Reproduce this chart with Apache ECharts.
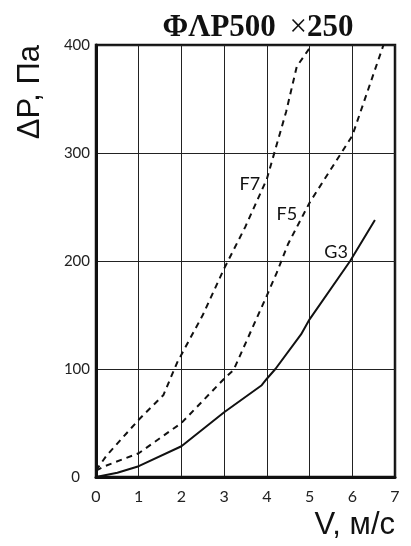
<!DOCTYPE html>
<html><head><meta charset="utf-8">
<script src="https://cdn.jsdelivr.net/npm/echarts@6/dist/echarts.min.js"></script>
<style>html,body{margin:0;padding:0;background:#fff}#c{width:411px;height:546px}</style>
</head><body><div id="c"></div>
<script>
// Data (V in m/s, ΔP in Pa)
const xTicks = [0, 1, 2, 3, 4, 5, 6, 7];
const yTicks = [0, 100, 200, 300, 400];
const seriesG3 = [[0,0],[0.5,4],[1,10],[2,28.5],[3,60],[3.88,85],[4,91],[4.2,100],[4.8,132],[5,146],[5.95,200],[6.53,238]];
const seriesF5 = [[0,6],[0.2,10],[1,22],[2,50],[3,91],[3.22,99],[4,168],[4.23,189],[4.5,216],[5,254],[6,316],[6.73,400]];
const seriesF7 = [[0,6],[0.25,20],[1,53],[1.58,76],[1.9,106],[2.5,150],[3,193],[3.5,232],[4,276],[4.45,338],[4.7,380],[5.05,400]];
const labelG3 = [5.62, 208];
const labelF5 = [4.47, 243];
const labelF7 = [3.6, 271];

const chart = echarts.init(document.getElementById('c'), null, {renderer:'canvas'});
function mk(name, data, dashed, lab){
  return {
    name, type:'line', data, showSymbol:false, symbol:'none', z:5,
    lineStyle:{color:'#111', width:2, type: dashed ? [6,5] : 'solid'},
    markPoint:{symbol:'circle', symbolSize:0, silent:true,
      data:[{coord:lab, label:{show:true, position:'inside', formatter:name, color:'#111', fontSize:18, fontFamily:'Lato'}}]}
  };
}
chart.setOption({
  animation:false,
  title:{text:'ΦΛP500 {x|×}250', left:253, textAlign:'center', top:7,
    textStyle:{fontFamily:'Liberation Serif', fontWeight:'bold', fontSize:31, color:'#111',
      rich:{x:{fontFamily:'Liberation Serif', fontWeight:'normal', fontSize:31, color:'#111', padding:[0,0,0,6]}}}},
  grid:{left:96, right:16, top:45, bottom:69, show:true, borderColor:'#111', borderWidth:2.5, backgroundColor:'transparent'},
  xAxis:{type:'value', min:0, max:7, interval:1,
    axisLine:{show:true, lineStyle:{color:'#111', width:3}}, axisTick:{show:false},
    splitLine:{show:true, lineStyle:{color:'#222', width:1}},
    axisLabel:{color:'#222', fontSize:16, fontFamily:'Lato', margin:12,
      formatter:v => xTicks.includes(v) ? String(v) : ''},
    name:'V, м/с', nameLocation:'end', nameGap:0,
    nameTextStyle:{fontFamily:'Liberation Sans', fontSize:31, color:'#111', align:'right', verticalAlign:'top', padding:[33,0,0,0]}},
  yAxis:{type:'value', min:0, max:400, interval:100,
    axisLine:{show:true, lineStyle:{color:'#111', width:3}}, axisTick:{show:false},
    splitLine:{show:true, lineStyle:{color:'#222', width:1}},
    axisLabel:{color:'#222', fontSize:15, fontFamily:'Lato', margin:6,
      formatter:v => yTicks.includes(v) ? (v===0 ? '{z|0}' : String(v)) : '',
      rich:{z:{fontSize:15, fontFamily:'Lato', color:'#222', padding:[0,10,0,0]}}},
    name:'ΔP, Па', nameLocation:'end', nameRotate:90, nameGap:0,
    nameTextStyle:{fontFamily:'Liberation Sans', fontSize:31, color:'#111', align:'right', verticalAlign:'bottom', padding:[0,0,50,0]}},
  series:[mk('F7', seriesF7, true, labelF7), mk('F5', seriesF5, true, labelF5), mk('G3', seriesG3, false, labelG3)]
});
</script></body></html>
